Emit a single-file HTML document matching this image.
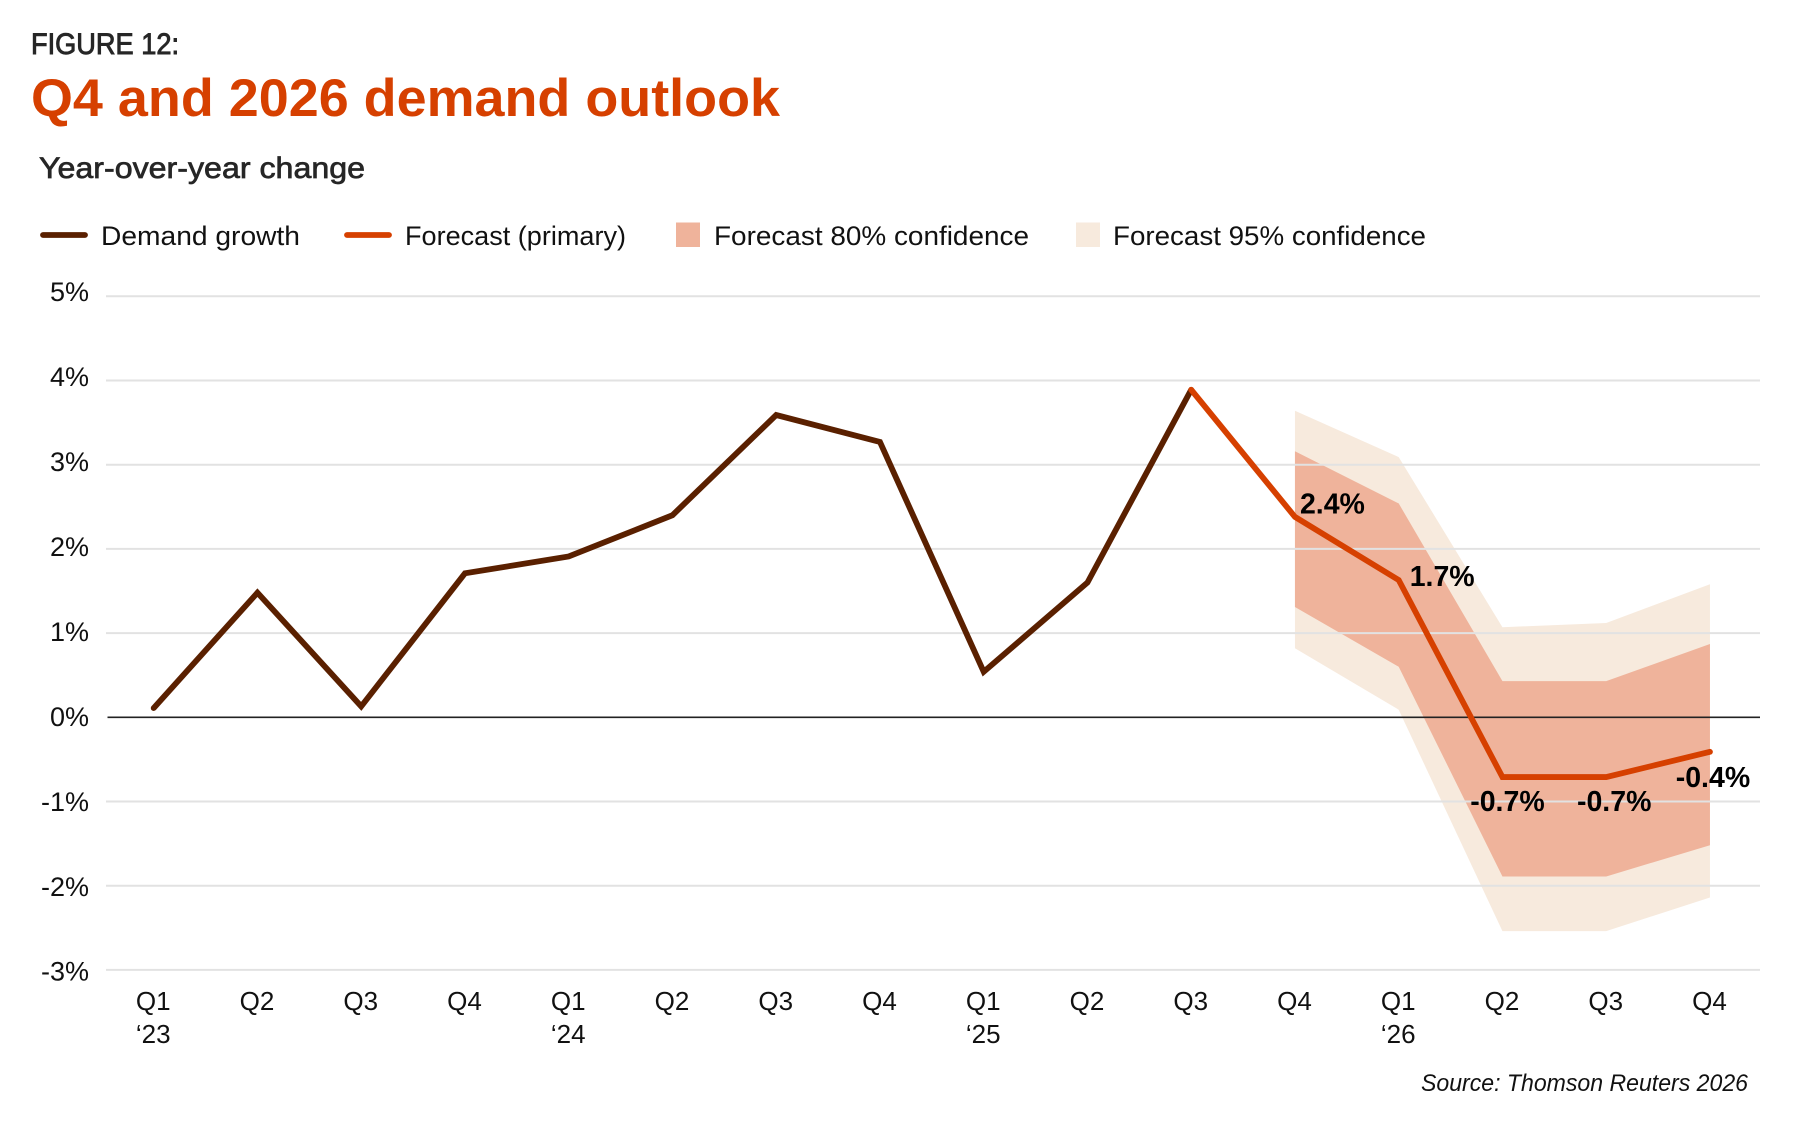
<!DOCTYPE html>
<html lang="en">
<head>
<meta charset="utf-8">
<title>Q4 and 2026 demand outlook</title>
<style>
html,body{margin:0;padding:0;background:#fff;}
body{width:1798px;height:1122px;overflow:hidden;}
svg{display:block;font-family:"Liberation Sans",Arial,sans-serif;}
</style>
</head>
<body>
<svg id="chart" xmlns="http://www.w3.org/2000/svg" width="1798" height="1122" viewBox="0 0 1798 1122">
  <rect x="0" y="0" width="1798" height="1122" fill="#ffffff"/>
  <text x="31" y="54" font-size="29.5" fill="#262626" stroke="#262626" stroke-width="0.9" textLength="148" lengthAdjust="spacingAndGlyphs">FIGURE 12:</text>
  <text x="31" y="116" font-size="53" font-weight="700" fill="#d64000" textLength="749" lengthAdjust="spacingAndGlyphs">Q4 and 2026 demand outlook</text>
  <text x="39" y="178" font-size="30" fill="#262626" stroke="#262626" stroke-width="0.7" textLength="326" lengthAdjust="spacingAndGlyphs">Year-over-year change</text>

  <g>
    <g>
      <line x1="43" y1="235" x2="85" y2="235" stroke="#5a2000" stroke-width="5.8" stroke-linecap="round"/>
      <text x="101" y="245" font-size="27" fill="#111" textLength="199" lengthAdjust="spacingAndGlyphs">Demand growth</text>
    </g>
    <g>
      <line x1="347" y1="235" x2="389" y2="235" stroke="#d64000" stroke-width="5.8" stroke-linecap="round"/>
      <text x="405" y="245" font-size="27" fill="#111" textLength="221" lengthAdjust="spacingAndGlyphs">Forecast (primary)</text>
    </g>
    <g>
      <rect x="676" y="222.5" width="24" height="24.5" fill="#efb39b"/>
      <text x="714" y="245" font-size="27" fill="#111" textLength="315" lengthAdjust="spacingAndGlyphs">Forecast 80% confidence</text>
    </g>
    <g>
      <rect x="1076" y="222.5" width="24" height="24.5" fill="#f7eadd"/>
      <text x="1113" y="245" font-size="27" fill="#111" textLength="313" lengthAdjust="spacingAndGlyphs">Forecast 95% confidence</text>
    </g>
  </g>

  <g id="bands"></g>
  <g id="grid"></g>
  <g id="yaxis"></g>
  <g id="xaxis"></g>
  <g id="lines"></g>
  <g id="labels"></g>

  <text x="1421" y="1091" font-size="24" font-style="italic" fill="#111" textLength="327" lengthAdjust="spacingAndGlyphs">Source: Thomson Reuters 2026</text>
</svg>

<script>
const quarters = ['Q1','Q2','Q3','Q4','Q1','Q2','Q3','Q4','Q1','Q2','Q3','Q4','Q1','Q2','Q3','Q4'];
const years = ['\u201823','','','','\u201824','','','','\u201825','','','','\u201826','','',''];
const yTicks = [5,4,3,2,1,0,-1,-2,-3];
const yTickLabels = ['5%','4%','3%','2%','1%','0%','-1%','-2%','-3%'];

const demandGrowth = [0.11,1.48,0.13,1.71,1.91,2.40,3.59,3.27,0.54,1.60,3.89];
const forecastPrimary = [3.89,2.38,1.63,-0.71,-0.71,-0.41];
const forecastLabels = ['','2.4%','1.7%','-0.7%','-0.7%','-0.4%'];
const upper80 = [3.16,2.54,0.43,0.43,0.87];
const lower80 = [1.31,0.60,-1.89,-1.89,-1.52];
const upper95 = [3.64,3.09,1.07,1.12,1.58];
const lower95 = [0.82,0.09,-2.54,-2.54,-2.14];

const forecastStartIndex = 10;
const bandStartIndex = 11;

const NS = 'http://www.w3.org/2000/svg';
function xScale(i){ return 153.7 + i * 103.75; }
function yScale(v){ return 717.3 - v * 84.2; }
function make(tag, parentId, attrs, text){
  const el = document.createElementNS(NS, tag);
  for (const k in attrs) el.setAttribute(k, attrs[k]);
  if (text !== undefined) el.textContent = text;
  document.getElementById(parentId).appendChild(el);
  return el;
}
function pathFrom(values, startIndex){
  return values.map(function(v, i){
    return (i ? 'L' : 'M') + xScale(startIndex + i).toFixed(2) + ' ' + yScale(v).toFixed(2);
  }).join(' ');
}
function bandPath(upper, lower, startIndex){
  const top = upper.map(function(v, i){ return xScale(startIndex + i).toFixed(2) + ',' + yScale(v).toFixed(2); });
  const bottom = lower.map(function(v, i){ return xScale(startIndex + i).toFixed(2) + ',' + yScale(v).toFixed(2); }).reverse();
  return top.concat(bottom).join(' ');
}

/* confidence bands */
const band95 = make('polygon', 'bands', {points: bandPath(upper95, lower95, bandStartIndex), fill: '#f7eadd'});


const band80 = make('polygon', 'bands', {points: bandPath(upper80, lower80, bandStartIndex), fill: '#efb39b'});



/* gridlines + y tick labels */
yTicks.forEach(function(t, i){
  const isZero = t === 0;
  const line = make('line', 'grid', {
    x1: isZero ? 107.5 : 106, x2: 1760, y1: yScale(t), y2: yScale(t),
    stroke: isZero ? '#222222' : '#e2e2e2', 'stroke-width': isZero ? 1.6 : 2
  });
  
  
  const label = make('text', 'yaxis', {
    x: 89, y: yScale(t) + 4.8 + (5 - t) * 0.75, 'text-anchor': 'end', 'font-size': 27, fill: '#111'
  }, yTickLabels[i]);
  
  
});

/* x axis labels */
quarters.forEach(function(q, i){
  const label = make('text', 'xaxis', {
    x: xScale(i) - 0.5, y: 1010, 'text-anchor': 'middle', 'font-size': 26, fill: '#111'
  }, q);
  
  
  if (years[i]) {
    const yearLabel = make('text', 'xaxis', {
      x: xScale(i) - 0.5, y: 1043, 'text-anchor': 'middle', 'font-size': 26, fill: '#111'
    }, years[i]);
    
    
  }
});

/* series lines */
const demandLine = make('path', 'lines', {
  d: pathFrom(demandGrowth, 0), fill: 'none', stroke: '#5a2000', 'stroke-width': 5.8,
  'stroke-linejoin': 'miter', 'stroke-linecap': 'round'
});


const forecastLine = make('path', 'lines', {
  d: pathFrom(forecastPrimary, forecastStartIndex), fill: 'none', stroke: '#d64000', 'stroke-width': 5.8,
  'stroke-linejoin': 'miter', 'stroke-linecap': 'round'
});



/* printed forecast values */
function valueLabel(k, dx, dy, anchor){
  const el = make('text', 'labels', {
    x: xScale(forecastStartIndex + k) + dx, y: yScale(forecastPrimary[k]) + dy,
    'text-anchor': anchor, 'font-size': 28.5, 'font-weight': 700, fill: '#000'
  }, forecastLabels[k]);
  return el;
}
const label1 = valueLabel(1, 5, -3.5, 'start');


const label2 = valueLabel(2, 11, 6, 'start');


const label3 = valueLabel(3, 5, 34, 'middle');


const label4 = valueLabel(4, 8, 34, 'middle');


const label5 = valueLabel(5, 3, 35, 'middle');


</script>
</body>
</html>
